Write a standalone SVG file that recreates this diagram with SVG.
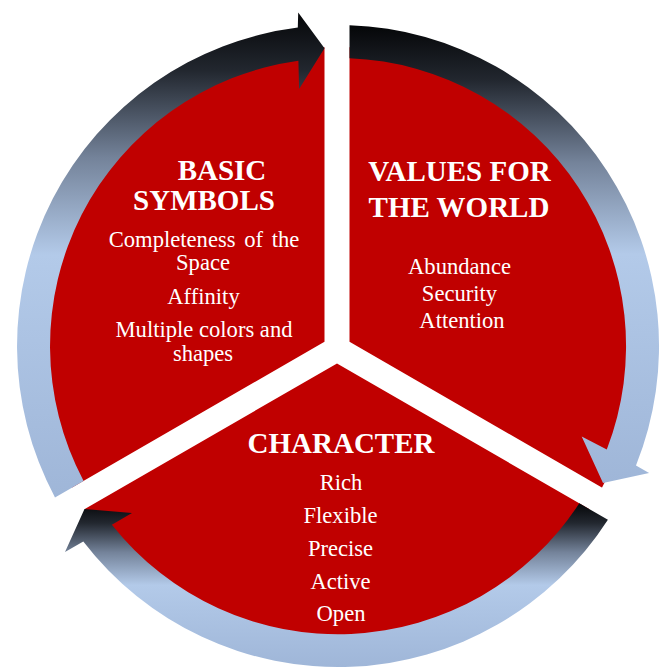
<svg xmlns="http://www.w3.org/2000/svg" width="662" height="668" viewBox="0 0 662 668">
  <defs>
    <linearGradient id="arrowFill" x1="0" y1="0" x2="0" y2="1">
      <stop offset="0" stop-color="#050608"/>
      <stop offset="0.12" stop-color="#22272f"/>
      <stop offset="0.3" stop-color="#74839a"/>
      <stop offset="0.5" stop-color="#b3cae9"/>
      <stop offset="1" stop-color="#9fb6d8"/>
    </linearGradient>
    <style>
      .arrow { fill: url(#arrowFill); }
      .title { font-family: "Liberation Serif", "Times New Roman", serif; font-weight: bold; font-size: 29px; fill: #ffffff; text-anchor: middle; }
      .item { font-family: "Liberation Serif", "Times New Roman", serif; font-size: 22.6px; fill: #ffffff; text-anchor: middle; }
    </style>
  </defs>

  <rect width="662" height="668" fill="#ffffff"/>

  <!-- red disc split into three sectors by a white Y -->
  <g id="disc">
    <circle cx="337" cy="347" r="300" fill="#c00000"/>
    <polygon fill="#ffffff" points="324.5,-5 324.5,341.8 -20,540.7 -20,569.5 337,363.4 682,562.6 682,533.8 349.5,341.8 349.5,-5"/>
  </g>

  <!-- circular arrows around the disc -->
  <g id="connectors">
    <path class="arrow" d="M55.0,497.4 A321,321 0 0 1 297.8,27.5 L298.2,12.4 L324.5,48.3 L299.1,88.9 L298.4,60.7 A288,288 0 0 0 83.6,480.9 Z"/>
    <path class="arrow" d="M349.5,25.2 A321,321 0 0 1 636.0,465.4 L649.1,472.9 L603,483 L581.7,436.6 L606.8,449.5 A288,288 0 0 0 349.5,58.2 Z"/>
    <path class="arrow" d="M607.9,519.8 A321,321 0 0 1 83.3,541.4 L65,552 L84.5,509 L132,513 L111.9,524.7 A288,288 0 0 0 579.3,503.3 Z"/>
  </g>

  <g id="basic-symbols">
    <text class="title" x="222" y="180">BASIC</text>
    <text class="title" x="204" y="210">SYMBOLS</text>
    <text class="item" x="204" y="247" word-spacing="3">Completeness of the</text>
    <text class="item" x="203" y="270">Space</text>
    <text class="item" x="203.5" y="304">Affinity</text>
    <text class="item" x="204" y="337">Multiple colors and</text>
    <text class="item" x="203" y="361">shapes</text>
  </g>

  <g id="values-for-the-world">
    <text class="title" x="459.5" y="181">VALUES FOR</text>
    <text class="title" x="459" y="217">THE WORLD</text>
    <text class="item" x="459.5" y="274">Abundance</text>
    <text class="item" x="459.5" y="301">Security</text>
    <text class="item" x="462" y="328">Attention</text>
  </g>

  <g id="character">
    <text class="title" x="341" y="453">CHARACTER</text>
    <text class="item" x="341" y="490">Rich</text>
    <text class="item" x="340.5" y="523">Flexible</text>
    <text class="item" x="340.5" y="556">Precise</text>
    <text class="item" x="340.5" y="589">Active</text>
    <text class="item" x="341" y="621">Open</text>
  </g>
</svg>
